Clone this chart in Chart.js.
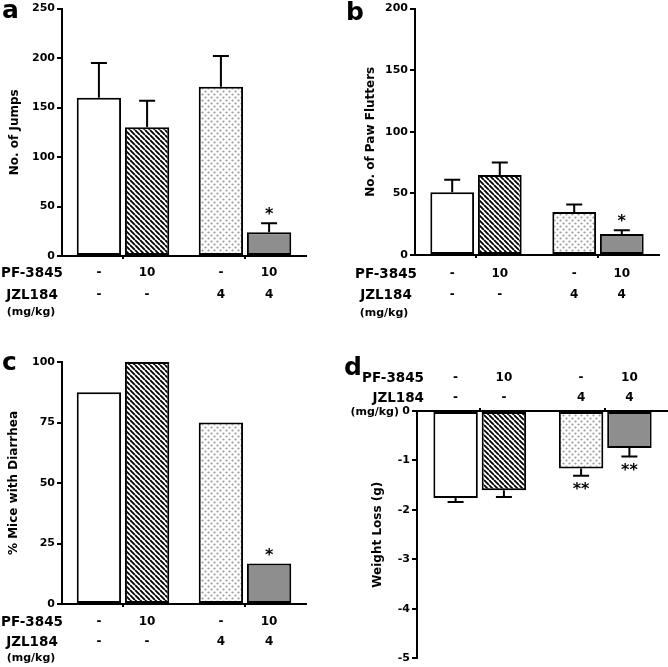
<!DOCTYPE html>
<html>
<head>
<meta charset="utf-8">
<script src="https://cdn.jsdelivr.net/npm/chart.js@4.4.0/dist/chart.umd.min.js"></script>
<style>
  html, body { margin: 0; padding: 0; background: #fff; }
  #fig { position: relative; width: 668px; height: 667px; }
  .panel { position: absolute; }
</style>
</head>
<body>
<div id="fig">
  <div class="panel" style="left:0;top:0;width:334px;height:330px"><canvas id="panelA"></canvas></div>
  <div class="panel" style="left:334px;top:0;width:334px;height:330px"><canvas id="panelB"></canvas></div>
  <div class="panel" style="left:0;top:330px;width:334px;height:337px"><canvas id="panelC"></canvas></div>
  <div class="panel" style="left:334px;top:330px;width:334px;height:337px"><canvas id="panelD"></canvas></div>
</div>
<script>
// Grupos (JZL184 - / JZL184 4), dos barras por grupo (PF-3845 - / 10)
const groupLabels = ['JZL184 -', 'JZL184 4'];
const pfRow  = ['-', '10', '-', '10'];
const jzlRow = ['-', '-', '4', '4'];

// a — No. of Jumps
const jumpsMean = [160, 130, 171, 24];
const jumpsSem  = [35, 27, 31, 9];
const jumpsSig  = ['', '', '', '*'];
const jumpsTicks = [0, 50, 100, 150, 200, 250];

// b — No. of Paw Flutters
const fluttersMean = [51, 65, 35, 17];
const fluttersSem  = [10, 10, 6, 3];
const fluttersSig  = ['', '', '', '*'];
const fluttersTicks = [0, 50, 100, 150, 200];

// c — % Mice with Diarrhea (sin barras de error)
const diarrheaPct = [87.5, 100, 75, 16.7];
const diarrheaSig = ['', '', '', '*'];
const diarrheaTicks = [0, 25, 50, 75, 100];

// d — Weight Loss (g)
const weightMean = [-1.76, -1.6, -1.16, -0.75];
const weightSem  = [0.08, 0.14, 0.15, 0.17];
const weightSig  = ['', '', '**', '**'];
const weightTicks = [-5, -4, -3, -2, -1, 0];

const FONT = "'DejaVu Sans', sans-serif";

// ─── Tramas de relleno ────────────────────────────────────────────────────────
function patronRayado() {
  const s = 5;
  const c = document.createElement('canvas');
  c.width = s; c.height = s;
  const g = c.getContext('2d');
  g.fillStyle = '#fff';
  g.fillRect(0, 0, s, s);
  g.strokeStyle = '#000';
  g.lineWidth = 1.8;
  g.beginPath();
  for (let k = -1; k <= 1; k++) {
    g.moveTo(k * s, 0);
    g.lineTo(k * s + s, s);
  }
  g.stroke();
  return g.createPattern(c, 'repeat');
}

function patronPuntos() {
  const s = 6;
  const c = document.createElement('canvas');
  c.width = s; c.height = s;
  const g = c.getContext('2d');
  g.fillStyle = '#fff';
  g.fillRect(0, 0, s, s);
  g.fillStyle = '#9a9a9a';
  [[1.5, 1.5], [4.5, 4.5]].forEach(([x, y]) => {
    g.beginPath();
    g.arc(x, y, 1.1, 0, Math.PI * 2);
    g.fill();
  });
  return g.createPattern(c, 'repeat');
}

const FILLS = ['#ffffff', patronRayado(), patronPuntos(), '#8e8e8e'];

// barra i → dataset i%2, índice floor(i/2)
function barEl(chart, i) {
  return chart.getDatasetMeta(i % 2).data[Math.floor(i / 2)];
}

// ─── Plugin: barras de error, asteriscos, filas de dosis, letra del panel ─────
function anotaciones(cfg) {
  return {
    id: 'anotaciones',
    afterDatasetsDraw(chart) {
      const ctx = chart.ctx;
      const y = chart.scales.y;
      ctx.save();
      ctx.strokeStyle = '#000';
      ctx.fillStyle = '#000';
      ctx.lineWidth = 2;

      cfg.means.forEach((m, i) => {
        const el = barEl(chart, i);
        const dir = m < 0 ? -1 : 1;
        let tip = el.y;
        if (cfg.sems) {
          tip = y.getPixelForValue(m + dir * cfg.sems[i]);
          ctx.beginPath();
          ctx.moveTo(el.x, el.y);
          ctx.lineTo(el.x, tip);
          ctx.moveTo(el.x - 8, tip);
          ctx.lineTo(el.x + 8, tip);
          ctx.stroke();
        }
        if (cfg.sig[i]) {
          ctx.font = `bold 16px ${FONT}`;
          ctx.textAlign = 'center';
          ctx.textBaseline = 'alphabetic';
          ctx.fillText(cfg.sig[i], el.x, dir > 0 ? tip - 4 : tip + 18);
        }
      });

      // filas de dosis
      const base = cfg.axisY;
      ctx.textBaseline = 'middle';
      ctx.textAlign = 'center';
      ctx.font = `bold 12px ${FONT}`;
      pfRow.forEach((t, i) => ctx.fillText(t, barEl(chart, i).x, base + cfg.rowDy[0]));
      jzlRow.forEach((t, i) => ctx.fillText(t, barEl(chart, i).x, base + cfg.rowDy[1]));

      ctx.textAlign = cfg.nameAlign;
      ctx.font = `bold 13.5px ${FONT}`;
      ctx.fillText('PF-3845', cfg.nameX[0], base + cfg.rowDy[0]);
      ctx.fillText('JZL184', cfg.nameX[0], base + cfg.rowDy[1]);
      ctx.font = `bold 11px ${FONT}`;
      ctx.fillText('(mg/kg)', cfg.nameX[1], base + cfg.rowDy[2]);

      // letra del panel
      ctx.textAlign = 'left';
      ctx.textBaseline = 'alphabetic';
      ctx.font = `bold 25px ${FONT}`;
      ctx.fillText(cfg.letter, cfg.letterPos[0], cfg.letterPos[1]);
      ctx.restore();
    }
  };
}

// ─── Crear panel ──────────────────────────────────────────────────────────────
function crearPanel(id, o) {
  const datasets = [0, 1].map(d => ({
    label: d === 0 ? 'PF-3845 -' : 'PF-3845 10',
    data: [o.means[d], o.means[d + 2]],
    backgroundColor: [FILLS[d], FILLS[d + 2]],
    borderColor: '#000',
    borderWidth: 2,
    borderSkipped: false,
    categoryPercentage: o.catPct,
    barPercentage: 0.92
  }));

  return new Chart(document.getElementById(id), {
    type: 'bar',
    data: { labels: groupLabels, datasets },
    options: {
      responsive: true,
      maintainAspectRatio: false,
      animation: false,
      layout: { padding: o.padding },
      plugins: { legend: { display: false }, tooltip: { enabled: false } },
      scales: {
        x: {
          position: o.xPos,
          ticks: { display: false },
          grid: { drawOnChartArea: false, offset: false, color: '#000', lineWidth: 2, tickLength: 3 },
          border: { color: '#000', width: 2 },
          afterFit: s => { s.height = o.xHeight; }
        },
        y: {
          min: o.ticks[0],
          max: o.ticks[o.ticks.length - 1],
          afterBuildTicks: s => { s.ticks = o.ticks.map(v => ({ value: v })); },
          ticks: {
            color: '#000',
            padding: 2,
            font: { family: FONT, size: 11, weight: 'bold' },
            callback: v => String(v)
          },
          grid: { drawOnChartArea: false, color: '#000', lineWidth: 2, tickLength: 5 },
          border: { color: '#000', width: 2 },
          title: {
            display: true,
            text: o.title,
            color: '#000',
            padding: { top: o.titlePad, bottom: 0 },
            font: { family: FONT, size: 12, weight: 'bold' }
          },
          afterFit: s => { s.width = o.yWidth; }
        }
      }
    },
    plugins: [anotaciones(o)]
  });
}

crearPanel('panelA', {
  means: jumpsMean, sems: jumpsSem, sig: jumpsSig, ticks: jumpsTicks,
  title: 'No. of Jumps', titlePad: 8, letter: 'a', letterPos: [2, 18],
  padding: { top: 8, right: 28, left: 0, bottom: 0 }, yWidth: 62, xHeight: 74, xPos: 'bottom',
  catPct: 0.79, axisY: 256, rowDy: [17, 39, 56], nameAlign: 'center', nameX: [32, 31]
});

crearPanel('panelB', {
  means: fluttersMean, sems: fluttersSem, sig: fluttersSig, ticks: fluttersTicks,
  title: 'No. of Paw Flutters', titlePad: 30, letter: 'b', letterPos: [12, 20],
  padding: { top: 8, right: 9, left: 0, bottom: 0 }, yWidth: 81, xHeight: 75, xPos: 'bottom',
  catPct: 0.78, axisY: 255, rowDy: [19, 40, 58], nameAlign: 'center', nameX: [52, 50]
});

crearPanel('panelC', {
  means: diarrheaPct, sems: null, sig: diarrheaSig, ticks: diarrheaTicks,
  title: '% Mice with Diarrhea', titlePad: 7, letter: 'c', letterPos: [2, 40],
  padding: { top: 32, right: 28, left: 0, bottom: 0 }, yWidth: 62, xHeight: 63, xPos: 'bottom',
  catPct: 0.79, axisY: 274, rowDy: [18, 38, 54], nameAlign: 'center', nameX: [32, 31]
});

crearPanel('panelD', {
  means: weightMean, sems: weightSem, sig: weightSig, ticks: weightTicks,
  title: 'Weight Loss (g)', titlePad: 37, letter: 'd', letterPos: [10, 45],
  padding: { top: 0, right: 0, left: 0, bottom: 5 }, yWidth: 83, xHeight: 81, xPos: 'top',
  catPct: 0.77, axisY: 81, rowDy: [-33, -13, 1], nameAlign: 'right', nameX: [90, 65]
});
</script>
</body>
</html>
